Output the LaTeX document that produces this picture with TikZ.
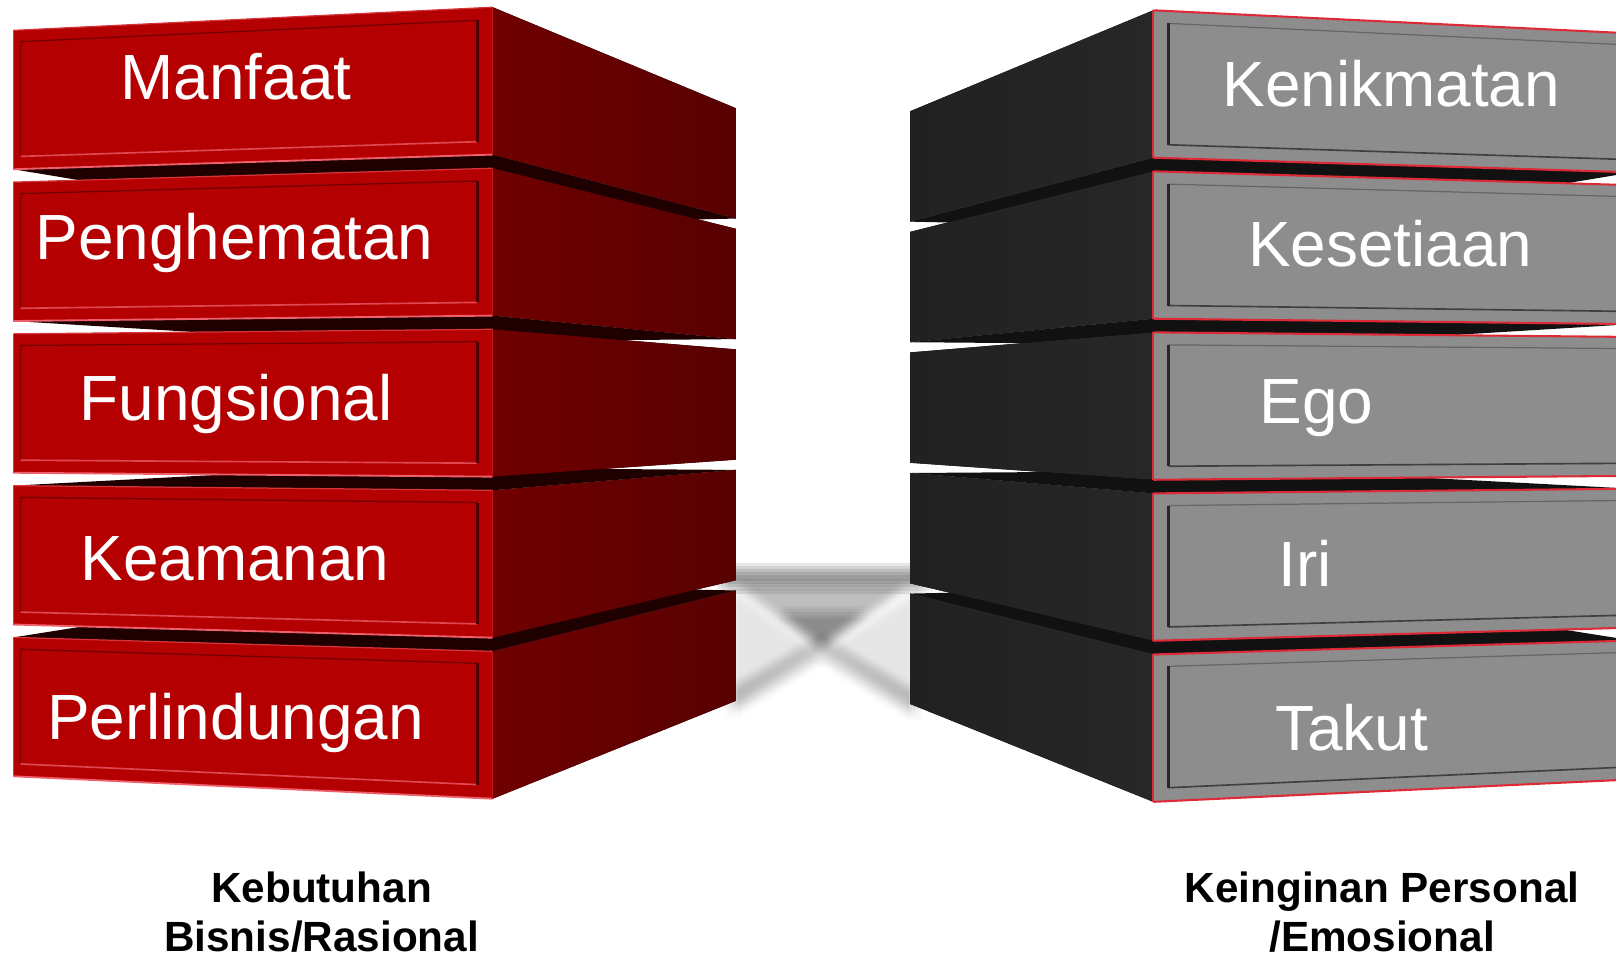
\documentclass[tikz,border=0pt]{standalone}
\usepackage{fontspec}
\setmainfont{Liberation Sans}

\definecolor{redface}{RGB}{180,0,0}
\definecolor{redsideA}{RGB}{112,0,0}
\definecolor{redsideB}{RGB}{88,0,0}
\definecolor{redunder}{RGB}{30,0,0}
\definecolor{redhi}{RGB}{238,96,108}
\definecolor{redlo}{RGB}{112,0,0}
\definecolor{grayface}{RGB}{141,141,141}
\definecolor{graysideA}{RGB}{33,33,33}
\definecolor{graysideB}{RGB}{39,39,39}
\definecolor{grayunder}{RGB}{17,17,17}
\definecolor{rim}{RGB}{222,42,54}

% One slab of a stack in two-point perspective.
% Horizon at y=397; #2/#3 are the top/bottom of the slab at its front corner.
% \sox, \ssg, \sdy place the stack (mirror x -> \sox + \ssg*x, lower by \sdy).
\newcommand\slab[3]{%
  \pgfmathsetmacro\ya{#2-397}%
  \pgfmathsetmacro\yb{#3-397}%
  \pgfmathsetmacro\xFR{\sox+\ssg*478}%
  \pgfmathsetmacro\xFL{\sox+\ssg*13}%
  \pgfmathsetmacro\xSB{\sox+\ssg*714}%
  \pgfmathsetmacro\xHB{\sox+\ssg*350.4}%
  \pgfmathsetmacro\xIN{\sox+\ssg*463}%
  \pgfmathsetmacro\xIF{\sox+\ssg*20}%
  \coordinate (#1-frt) at (\xFR,{397+\sdy+\ya});
  \coordinate (#1-frb) at (\xFR,{397+\sdy+\yb});
  \coordinate (#1-flt) at (\xFL,{397+\sdy+0.9424*\ya});
  \coordinate (#1-flb) at (\xFL,{397+\sdy+0.9424*\yb});
  \coordinate (#1-sbt) at (\xSB,{397+\sdy+0.7487*\ya});
  \coordinate (#1-sbb) at (\xSB,{397+\sdy+0.7487*\yb});
  \coordinate (#1-hbt) at (\xHB,{397+\sdy+0.7159*\ya});
  \coordinate (#1-hbb) at (\xHB,{397+\sdy+0.7159*\yb});
  \coordinate (#1-int) at (\xIN,{397+\sdy+0.9981*(\ya+12)});
  \coordinate (#1-inb) at (\xIN,{397+\sdy+0.9981*(\yb-13)});
  \coordinate (#1-ift) at (\xIF,{397+\sdy+0.9433*(\ya+12)});
  \coordinate (#1-ifb) at (\xIF,{397+\sdy+0.9433*(\yb-13)});
  \ifdim #3pt<397pt \fill[slab hidden] (#1-flb) -- (#1-frb) -- (#1-sbb) -- (#1-hbb) -- cycle;\fi
  \ifdim #2pt>397pt \fill[slab hidden] (#1-flt) -- (#1-frt) -- (#1-sbt) -- (#1-hbt) -- cycle;\fi
  \fill[slab side] (#1-frt) -- (#1-sbt) -- (#1-sbb) -- (#1-frb) -- cycle;
  \fill[slab face] (#1-flt) -- (#1-frt) -- (#1-frb) -- (#1-flb) -- cycle;
  \draw[slab in top] (#1-ift) -- (#1-int);
  \draw[slab in far] (#1-ift) -- (#1-ifb);
  \draw[slab in bottom] (#1-ifb) -- (#1-inb);
  \draw[slab in near] (#1-int) -- (#1-inb);
  \draw[slab rim top] (#1-flt) -- (#1-frt);
  \draw[slab rim bottom] (#1-flb) -- (#1-frb);
  \draw[slab rim far] (#1-flt) -- (#1-flb);
  \draw[slab rim near] (#1-frt) -- (#1-frb);
}

\tikzset{
  boxtext/.style={text=white, font=\fontsize{31}{36}\selectfont, anchor=base, inner sep=0pt},
  caption/.style={text=black, font=\bfseries\fontsize{20.5}{24}\selectfont, anchor=base, inner sep=0pt},
  redstack/.style={
    slab face/.style={fill=redface},
    slab side/.style={left color=redsideA, right color=redsideB},
    slab hidden/.style={fill=redunder},
    slab rim top/.style={draw=redhi!55!redface, line width=0.6pt},
    slab rim bottom/.style={draw=redhi, line width=0.9pt},
    slab rim far/.style={draw=redhi!60!redface, line width=0.6pt},
    slab rim near/.style={draw=redface!75!redhi, line width=0.8pt},
    slab in top/.style={draw=redlo, line width=0.6pt},
    slab in far/.style={draw=redlo!80!redface, line width=0.5pt},
    slab in bottom/.style={draw=redhi!75!redface, line width=0.8pt},
    slab in near/.style={draw=redlo!70!black, line width=1.3pt}},
  graystack/.style={
    slab face/.style={fill=grayface},
    slab side/.style={left color=graysideA, right color=graysideB},
    slab hidden/.style={fill=grayunder},
    slab rim top/.style={draw=rim, line width=1pt},
    slab rim bottom/.style={draw=rim, line width=1pt},
    slab rim far/.style={draw=rim, line width=1pt},
    slab rim near/.style={draw=rim, line width=1pt},
    slab in top/.style={draw=black!60, line width=0.6pt},
    slab in far/.style={draw=black!60, line width=0.6pt},
    slab in bottom/.style={draw=black!75, line width=0.8pt},
    slab in near/.style={draw=black!85, line width=1.4pt}},
}

\begin{document}
\begin{tikzpicture}[x=0.5pt,y=-0.5pt]
\useasboundingbox (0,0) rectangle (1568,930);
\clip (0,0) rectangle (1568,930);

% soft shadow between the two stacks, built from many faint offset copies
\foreach \a in {-6,-3,0,3,6}{
  \foreach \b in {-6,-3,0,3,6}{
    \begin{scope}[shift={(\a,\b)}]
      \fill[black,opacity=0.02] (700,552) rectangle (898,570);
      \fill[black,opacity=0.012] (716,568) -- (880,568) -- (797,628) -- cycle;
      \fill[black,opacity=0.01] (756,594) -- (840,594) -- (797,628) -- cycle;
      \fill[black,opacity=0.008] (797,618) -- (797,638) -- (710,692) -- (710,668) -- cycle;
      \fill[black,opacity=0.008] (797,618) -- (797,638) -- (888,695) -- (888,671) -- cycle;
      \fill[black,opacity=0.005] (710,572) -- (790,628) -- (710,684) -- cycle;
      \fill[black,opacity=0.005] (888,575) -- (804,628) -- (888,686) -- cycle;
    \end{scope}
  }
}

% left stack (red)
\begin{scope}[redstack]
  \def\sox{0}\def\ssg{1}\def\sdy{0}
  \slab{L1}{7}{150}
  \slab{L2}{163.25}{306.25}
  \slab{L5}{632}{775}
  \slab{L4}{475.75}{618.75}
  \slab{L3}{319.5}{462.5}
\end{scope}

% right stack (grey)
\begin{scope}[graystack]
  \def\sox{1597}\def\ssg{-1}\def\sdy{3}
  \slab{R1}{7}{150}
  \slab{R2}{163.25}{306.25}
  \slab{R5}{632}{775}
  \slab{R4}{475.75}{618.75}
  \slab{R3}{319.5}{462.5}
\end{scope}

% labels on the slabs
\node[boxtext] (t-manfaat) at (229,97) {Manfaat};
\node[boxtext] (t-penghematan) at (227.5,252) {Penghematan};
\node[boxtext] (t-fungsional) at (229,408) {Fungsional};
\node[boxtext] (t-keamanan) at (228,563) {Keamanan};
\node[boxtext] (t-perlindungan) at (228.5,718) {Perlindungan};

\node[boxtext] (t-kenikmatan) at (1350,103) {Kenikmatan};
\node[boxtext] (t-kesetiaan) at (1349,259) {Kesetiaan};
\node[boxtext] (t-ego) at (1277.5,411) {Ego};
\node[boxtext] (t-iri) at (1266.5,569) {Iri};
\node[boxtext] (t-takut) at (1311.5,728) {Takut};

% captions under the stacks
\node[caption] (cap-l1) at (312,876) {Kebutuhan};
\node[caption] (cap-l2) at (312,923) {Bisnis/Rasional};
\node[caption] (cap-r1) at (1341,876) {Keinginan Personal};
\node[caption] (cap-r2) at (1341,923) {/Emosional};
\end{tikzpicture}
\end{document}
